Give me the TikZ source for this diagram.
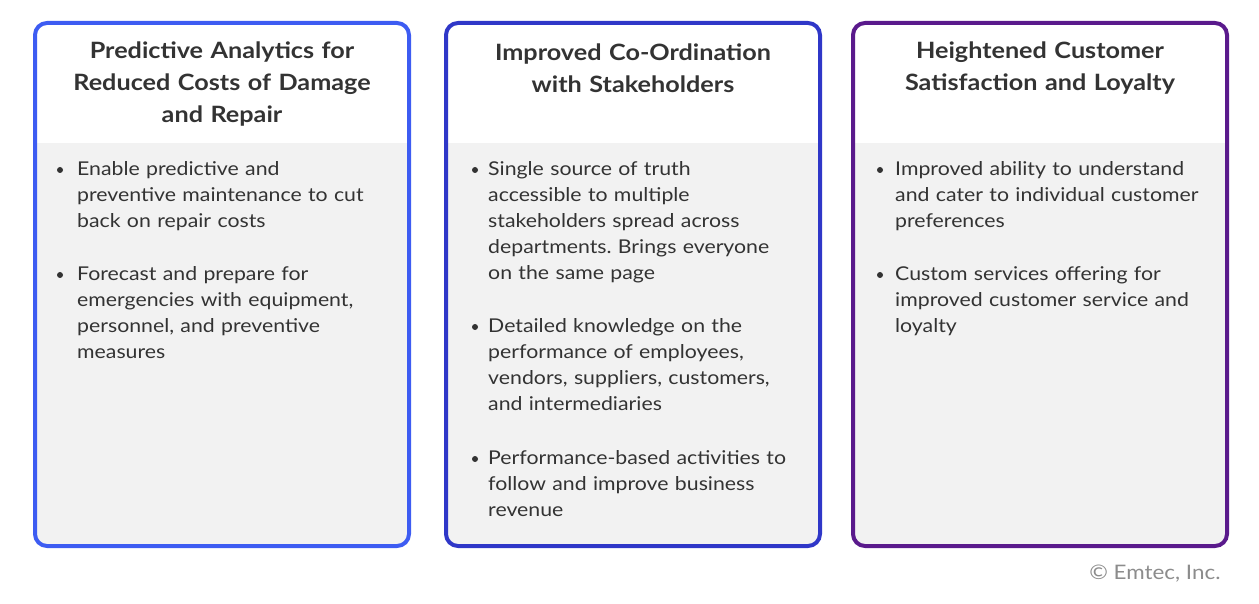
\documentclass[tikz,border=0pt]{standalone}
\usepackage{fontspec}
\setmainfont{Lato}[FakeStretch=1.12]
\usetikzlibrary{positioning}
\frenchspacing
\definecolor{blueA}{HTML}{3D5CF2}
\definecolor{blueB}{HTML}{2F37C8}
\definecolor{purpC}{HTML}{5A1A8C}
\definecolor{panel}{HTML}{F2F2F2}
\definecolor{ink}{HTML}{333333}
\tikzset{
  title/.style={font=\fontsize{22.5}{32}\selectfont\bfseries, text=ink, align=center, text width=360pt},
  point/.style={font=\fontsize{19}{26}\selectfont, text=ink, align=left, text width=330pt, anchor=north west, inner sep=0pt},
  dot/.style={circle, fill=ink, inner sep=0pt, minimum size=6pt}
}
\newcommand{\panelbox}[2]{%
  \fill[panel, rounded corners=12pt] (#1,23) rectangle ++(374,523);
  \fill[white, rounded corners=12pt] (#1,23) rectangle ++(374,130);
  \fill[panel] (#1,143) rectangle ++(374,20);
  \draw[#2, line width=4pt, rounded corners=12pt] (#1,23) rectangle ++(374,523);
}
\begin{document}
\begin{tikzpicture}[x=1pt,y=-1pt]
  \useasboundingbox (0,0) rectangle (1259,604);
  \panelbox{35}{blueA}
  \panelbox{446}{blueB}
  \panelbox{853}{purpC}

  % headers
  \node[title] (t1) at (222,84) {Predictive Analytics for\\Reduced Costs of Damage\\and Repair};
  \node[title] (t2) at (633,68) {Improved Co-Ordination\\with Stakeholders};
  \node[title] (t3) at (1040,68) {Heightened Customer\\Satisfaction and Loyalty};

  % first panel
  \node[point] (a1) at (77,161) {Enable predictive and\\preventive maintenance to cut\\back on repair costs};
  \node[point] (a2) at (77,266) {Forecast and prepare for\\emergencies with equipment,\\personnel, and preventive\\measures};
  % second panel
  \node[point] (b1) at (488,161) {Single source of truth\\accessible to multiple\\stakeholders spread across\\departments. Brings everyone\\on the same page};
  \node[point] (b2) at (488,318) {Detailed knowledge on the\\performance of employees,\\vendors, suppliers, customers,\\and intermediaries};
  \node[point] (b3) at (488,450) {Performance-based activities to\\follow and improve business\\revenue};
  % third panel
  \node[point] (c1) at (895,161) {Improved ability to understand\\and cater to individual customer\\preferences};
  \node[point] (c2) at (895,266) {Custom services offering for\\improved customer service and\\loyalty};

  \foreach \n/\x in {a1/60,a2/60,b1/475,b2/475,b3/475,c1/880,c2/880}
    \node[dot] at ([yshift=-9pt]\n.north west -| \x,0) {};

  \node[font=\fontsize{20}{24}\selectfont, text=gray!90, anchor=east] (copy) at (1224,574) {© Emtec, Inc.};
\end{tikzpicture}
\end{document}
